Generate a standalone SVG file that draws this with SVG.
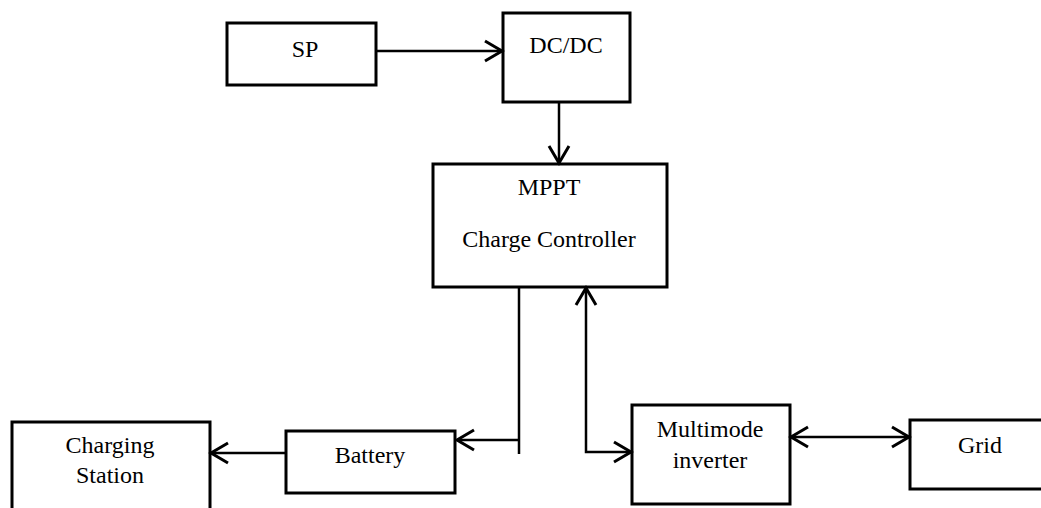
<svg xmlns="http://www.w3.org/2000/svg" width="1041" height="508" viewBox="0 0 1041 508">
<style>
.box{fill:#fff;stroke:#000;stroke-width:3}
.t{font-family:"Liberation Serif","Times New Roman",serif;font-size:24px;fill:#000;text-anchor:middle}
.c{fill:none;stroke:#000;stroke-width:2.5}
</style>
<defs>
<marker id="ah" markerUnits="userSpaceOnUse" markerWidth="24" markerHeight="26" viewBox="-20 -13 24 26" refX="0" refY="0" orient="auto-start-reverse" overflow="visible">
<path d="M-17,-10 L0,0 L-17,10" fill="none" stroke="#000" stroke-width="3"/>
</marker>
</defs>
<rect width="1041" height="508" fill="#fff"/>
<g id="sp"><rect class="box" x="227" y="23" width="149" height="62"/><text class="t" x="305" y="57">SP</text></g>
<g id="dcdc"><rect class="box" x="503" y="13" width="127" height="89"/><text class="t" x="566" y="53">DC/DC</text></g>
<g id="mppt"><rect class="box" x="433" y="164" width="234" height="123"/><text class="t" x="549" y="195">MPPT</text><text class="t" x="549" y="247">Charge Controller</text></g>
<g id="charging"><rect class="box" x="12" y="422" width="198" height="100"/><text class="t" x="110" y="453">Charging</text><text class="t" x="110" y="483">Station</text></g>
<g id="battery"><rect class="box" x="286" y="431" width="169" height="62"/><text class="t" x="370" y="463">Battery</text></g>
<g id="inverter"><rect class="box" x="632" y="405" width="158" height="99"/><text class="t" x="710" y="437">Multimode</text><text class="t" x="710" y="468">inverter</text></g>
<g id="grid"><rect class="box" x="910" y="420" width="140" height="69"/><text class="t" x="980" y="453">Grid</text></g>
<g id="connectors">
<line class="c" x1="376" y1="51" x2="502" y2="51" marker-end="url(#ah)"/>
<line class="c" x1="559" y1="102" x2="559" y2="163" marker-end="url(#ah)"/>
<line class="c" x1="519" y1="287" x2="519" y2="454"/>
<line class="c" x1="519" y1="440" x2="457" y2="440" marker-end="url(#ah)"/>
<line class="c" x1="286" y1="453" x2="211" y2="453" marker-end="url(#ah)"/>
<path class="c" d="M631,452 L586,452 L586,288" marker-start="url(#ah)" marker-end="url(#ah)"/>
<line class="c" x1="791" y1="437" x2="909" y2="437" marker-start="url(#ah)" marker-end="url(#ah)"/>
</g>
</svg>
